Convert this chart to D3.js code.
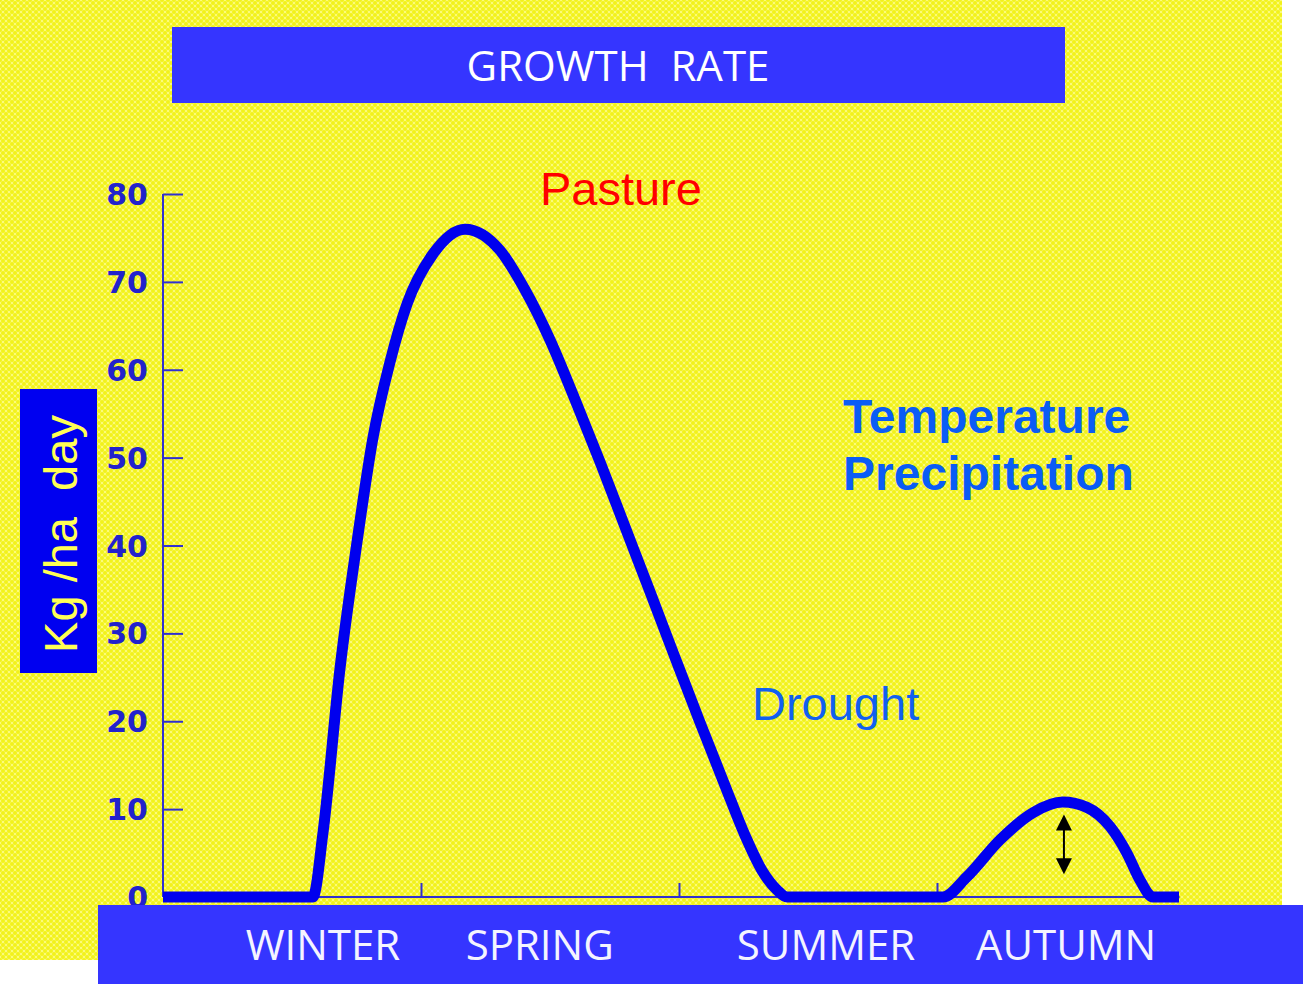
<!DOCTYPE html>
<html>
<head>
<meta charset="utf-8">
<script src="https://cdn.jsdelivr.net/npm/d3@7"></script>
<style>
  html, body { margin: 0; padding: 0; background: #ffffff; }
  svg { display: block; }
</style>
</head>
<body>
<svg id="chart" width="1303" height="984"></svg>
<script>
// ---- data ----
const title = "GROWTH  RATE";
const yLabel = "Kg /ha  day";
const seasons = ["WINTER", "SPRING", "SUMMER", "AUTUMN"];
const seasonLabelPos = [0.62, 1.46, 2.57, 3.5];   // in season units along x
const yTicks = [0, 10, 20, 30, 40, 50, 60, 70, 80];
const xTicks = [1, 2, 3];
// x in season units (0 = start of winter), y in kg/ha/day
const growthX = [0, 0.581, 0.62, 0.686, 0.752, 0.814, 0.88, 0.946, 1.047, 1.171, 1.306, 1.403, 1.5, 1.597, 1.694, 1.791, 1.888, 1.984, 2.081, 2.178, 2.256, 2.322, 2.38, 2.419, 3.023, 3.116, 3.244, 3.372, 3.488, 3.581, 3.671, 3.736, 3.787, 3.837, 3.938];
const growthY = [0, 0, 7.3, 26, 40.4, 52.3, 60.9, 67.5, 73.2, 76, 73.6, 69.1, 63.4, 56.6, 49.5, 42.1, 34.7, 27.3, 19.9, 12.7, 7.0, 3.0, 0.8, 0, 0, 2.3, 6.5, 9.6, 10.8, 10.2, 8, 5, 1.9, 0, 0];
const arrowX = 3.492;
const arrowY = [9.4, 2.6];
const annotations = [
  { text: "Pasture", x: 1.461, y: 78.75, color: "#ff0000", weight: "normal", size: 47 },
  { text: "Temperature", x: 2.636, y: 52.8, color: "#0a5cf5", weight: "bold", size: 48 },
  { text: "Precipitation", x: 2.636, y: 46.3, color: "#0a5cf5", weight: "bold", size: 48 },
  { text: "Drought", x: 2.283, y: 20.1, color: "#1060f0", weight: "normal", size: 47 }
];

// ---- layout ----
const svg = d3.select("#chart");
const x = d3.scaleLinear().domain([0, 4]).range([163, 1195]);
const y = d3.scaleLinear().domain([0, 80]).range([897, 194]);

// background pattern
const defs = svg.append("defs");
const pat = defs.append("pattern").attr("id", "dots").attr("patternUnits", "userSpaceOnUse")
  .attr("width", 6).attr("height", 6);
pat.append("rect").attr("width", 6).attr("height", 6).attr("fill", "#fbfb7a");
[[0,0],[6,0],[0,6],[6,6],[3,3]].forEach(([cx, cy]) =>
  pat.append("circle").attr("cx", cx).attr("cy", cy).attr("r", 2).attr("fill", "#f2f21a"));

svg.append("rect").attr("x", 0).attr("y", 0).attr("width", 1282).attr("height", 960).attr("fill", "url(#dots)");

// title bar
svg.append("rect").attr("x", 172).attr("y", 27).attr("width", 893).attr("height", 76).attr("fill", "#3535ff");
svg.append("text").attr("x", 618).attr("y", 81).attr("text-anchor", "middle")
  .attr("font-family", "'Open Sans', sans-serif").attr("font-size", 42).attr("fill", "#ffffff")
  .style("white-space", "pre").text(title);

// y label box
svg.append("rect").attr("x", 20).attr("y", 389).attr("width", 77).attr("height", 284).attr("fill", "#0000f0");
svg.append("text").attr("transform", "translate(77,534) rotate(-90)").attr("text-anchor", "middle")
  .attr("font-family", "'Liberation Sans', Arial, sans-serif").attr("font-size", 47).attr("fill", "#ffff55")
  .style("white-space", "pre").text(yLabel);

// y axis
const yAxis = svg.append("g").attr("transform", "translate(163,0)")
  .call(d3.axisRight(y).tickValues(yTicks).tickSize(20).tickFormat(""));
yAxis.select(".domain").attr("stroke", "#3030d0").attr("stroke-width", 2).attr("d", `M0,${y(80)}V${y(0)}`);
yAxis.selectAll(".tick line").attr("stroke", "#3030d0").attr("stroke-width", 2);
svg.append("g").selectAll("text").data(yTicks).join("text")
  .attr("x", 148).attr("y", d => y(d) + 11).attr("text-anchor", "end")
  .attr("font-family", "'DejaVu Sans', sans-serif").attr("font-weight", "bold").attr("font-size", 30)
  .attr("fill", "#2222cc").text(d => d);

// x axis
const xAxis = svg.append("g").attr("transform", `translate(0,${y(0)})`)
  .call(d3.axisTop(x).tickValues(xTicks).tickSize(14).tickFormat(""));
xAxis.select(".domain").attr("stroke", "#3030d0").attr("stroke-width", 2).attr("d", `M${x(0)},0H${x(3.94)}`);
xAxis.selectAll(".tick line").attr("stroke", "#3030d0").attr("stroke-width", 2);

// growth curve
const pts = growthX.map((d, i) => [d, growthY[i]]);
const line = d3.line().x(d => x(d[0])).y(d => y(d[1])).curve(d3.curveMonotoneX);
svg.append("path").datum(pts).attr("d", line).attr("fill", "none")
  .attr("stroke", "#0000ee").attr("stroke-width", 11).attr("stroke-linejoin", "round");

// annotations
svg.append("g").selectAll("text").data(annotations).join("text")
  .attr("x", d => x(d.x)).attr("y", d => y(d.y))
  .attr("font-family", "'Liberation Sans', Arial, sans-serif").attr("font-size", d => d.size)
  .attr("font-weight", d => d.weight).attr("fill", d => d.color).text(d => d.text);

// double arrow
const ax = x(arrowX), a1 = y(arrowY[0]), a2 = y(arrowY[1]);
svg.append("line").attr("x1", ax).attr("x2", ax).attr("y1", a1 + 8).attr("y2", a2 - 8)
  .attr("stroke", "#000").attr("stroke-width", 2);
svg.append("path").attr("d", `M${ax},${a1}L${ax - 8},${a1 + 16}L${ax + 8},${a1 + 16}Z`).attr("fill", "#000");
svg.append("path").attr("d", `M${ax},${a2}L${ax - 8},${a2 - 16}L${ax + 8},${a2 - 16}Z`).attr("fill", "#000");

// bottom season bar
svg.append("rect").attr("x", 98).attr("y", 905).attr("width", 1205).attr("height", 79).attr("fill", "#3535ff");
svg.append("g").selectAll("text").data(seasons).join("text")
  .attr("x", (d, i) => x(seasonLabelPos[i])).attr("y", 960).attr("text-anchor", "middle")
  .attr("font-family", "'Open Sans', sans-serif").attr("font-size", 42).attr("fill", "#f4f4ff")
  .text(d => d);
</script>
</body>
</html>
